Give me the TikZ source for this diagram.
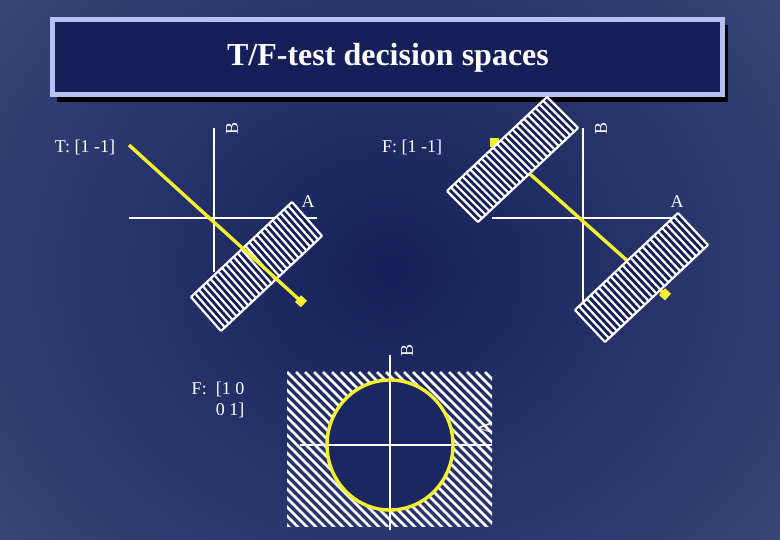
\documentclass[tikz,border=0pt]{standalone}
\usepackage{fontspec}
\setmainfont{Liberation Serif}
\usetikzlibrary{calc,shadings,arrows.meta}
\definecolor{navy}{HTML}{15205A}
\definecolor{edge}{HTML}{3D4C80}
\definecolor{ttl}{HTML}{B8C0F0}
\definecolor{yel}{HTML}{F5F030}
\tikzset{ax/.style={white,line width=1.6pt},
 lbl/.style={white,font=\fontsize{18}{21}\selectfont,inner sep=1pt},
 hat/.style={white,line width=2.2pt},
 arr/.style={yel,line width=3.4pt,-{Square[length=8pt,width=9pt]}}}
\newcommand{\hband}[4]{% P Q R N
 \fill[navy] (#1)--(#2)--(#3)--($(#1)+(#3)-(#2)$)--cycle;
 \foreach \i in {0,...,#4}{\draw[hat] ($(#1)!\i/#4!(#2)$) -- ($(#1)!\i/#4!(#2)+(#3)-(#2)$);}
 \draw[hat] (#1)--(#2); \draw[hat] ($(#1)+(#3)-(#2)$)--(#3);}
\begin{document}
\begin{tikzpicture}[x=1pt,y=-1pt]
\useasboundingbox (0,0) rectangle (780,540);
\shade[inner color=navy,outer color=edge] (-200,-250) rectangle (980,790);
% title
\fill[black] (57,25) rectangle (728,102);
\draw[ttl,line width=5pt,fill=navy] (52,20) rectangle (722,95);
\node[white,font=\bfseries\fontsize{32}{34}\selectfont] (title) at (388,58) {T/F-test decision spaces};
% diagram 1
\node[lbl] (t1) at (85,147) {T: [1 -1]};
\draw[ax] (214,128) -- (214,272);
\draw[ax] (129,218) -- (317,218);
\node[lbl,rotate=90] (b1) at (232,128) {B};
\node[lbl] (a1) at (308,202) {A};
\coordinate (p1) at (191,297); \coordinate (q1) at (292,202); \coordinate (r1) at (322,236);
\hband{p1}{q1}{r1}{26}
\coordinate (s1) at (129,145); \coordinate (e1) at (304,304);
\draw[arr] (s1) -- (e1);
% diagram 2
\node[lbl] (t2) at (412,147) {F: [1 -1]};
\draw[ax] (583,128) -- (583,302);
\draw[ax] (492,218) -- (678,218);
\node[lbl,rotate=90] (b2) at (601,128) {B};
\node[lbl] (a2) at (677,202) {A};
\coordinate (s2) at (530,174); \coordinate (e2) at (668,297);
\draw[arr] (s2) -- (e2);
\fill[yel] (490,138) rectangle (499,147);
\coordinate (p2) at (447,191); \coordinate (q2) at (547,97); \coordinate (r2) at (578,128);
\hband{p2}{q2}{r2}{26}
\coordinate (p3) at (575,310); \coordinate (q3) at (678,213); \coordinate (r3) at (708,245);
\hband{p3}{q3}{r3}{26}
% diagram 3
\node[lbl,align=right] (t3) at (218,400) {F:\ \ [1 0\\ 0 1]};
\begin{scope}
\clip (287,372) rectangle (492,526);
\foreach \k in {-162,-153,...,210}{\draw[hat,line width=2.6pt] (287+\k,372) -- ++(160,160);}
\end{scope}
\fill[navy!85!edge] (390,445) ellipse (63 and 65);
\draw[ax] (390,355) -- (390,530);
\draw[ax] (300,445) -- (492,445);
\draw[yel,line width=3.4pt] (390,445) ellipse (63 and 65);
\node[lbl,rotate=90] (b3) at (407,350) {B};
\node[lbl,rotate=90] (a3) at (485,428) {A};
\end{tikzpicture}
\end{document}
